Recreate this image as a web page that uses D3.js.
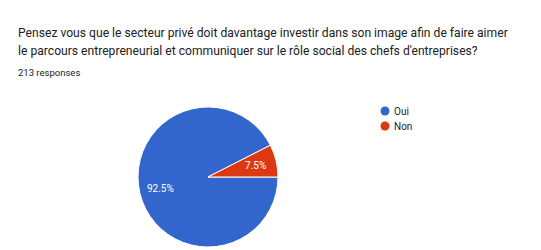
<!DOCTYPE html>
<html><head><meta charset="utf-8">
<script src="https://cdn.jsdelivr.net/npm/d3@7"></script>
<style>body{margin:0;background:#fff;}svg{display:block;font-family:Roboto,Arial,sans-serif;}</style>
</head><body>
<svg id="c" width="541" height="250"></svg>
<script>
const titleLines = ["Pensez vous que le secteur privé doit davantage investir dans son image afin de faire aimer",
  "le parcours entrepreneurial et communiquer sur le rôle social des chefs d'entreprises?"];
const subtitle = "213 responses";
const categories = ["Oui", "Non"];
const values = [92.5, 7.5];
const colors = ["#3366cc", "#dc3912"];

const svg = d3.select("#c");
const t1 = svg.append("text").attr("x", 18).attr("y", 37).attr("font-size", 13).attr("fill", "#202124").text(titleLines[0]);
const w = t1.node().getComputedTextLength();
const fs = 13 * 490 / w;
t1.attr("font-size", fs);
svg.append("text").attr("x", 18).attr("y", 54.5).attr("font-size", fs).attr("fill", "#202124").text(titleLines[1]);
svg.append("text").attr("x", 18).attr("y", 76).attr("font-size", 9.5).attr("fill", "#202124").text(subtitle);

const cx = 208, cy = 177, r = 70;
const pie = d3.pie().sort(null).startAngle(Math.PI/2).endAngle(Math.PI/2 + 2*Math.PI);
const arcs = pie(values);
const arc = d3.arc().innerRadius(0).outerRadius(r);
const g = svg.append("g").attr("transform", `translate(${cx},${cy})`);
g.selectAll("path").data(arcs).join("path").attr("d", arc)
  .attr("fill", (d,i) => colors[i]).attr("stroke", "#fff").attr("stroke-width", 1);
const labelArc = d3.arc().innerRadius(r*0.7).outerRadius(r*0.7);
g.selectAll("text.lbl").data(arcs).join("text").attr("class","lbl")
  .attr("transform", d => `translate(${labelArc.centroid(d)})`)
  .attr("text-anchor", "middle").attr("dy", "0.35em").attr("font-size", 10).attr("fill", "#fff")
  .text(d => d.data.toFixed(1) + "%");

const lg = svg.append("g");
categories.forEach((c, i) => {
  lg.append("circle").attr("cx", 385).attr("cy", 111 + i*15).attr("r", 4.5).attr("fill", colors[i]);
  lg.append("text").attr("x", 394).attr("y", 111 + i*15).attr("dy", "0.35em").attr("font-size", 10).attr("fill", "#222").text(c);
});
</script>
</body></html>
